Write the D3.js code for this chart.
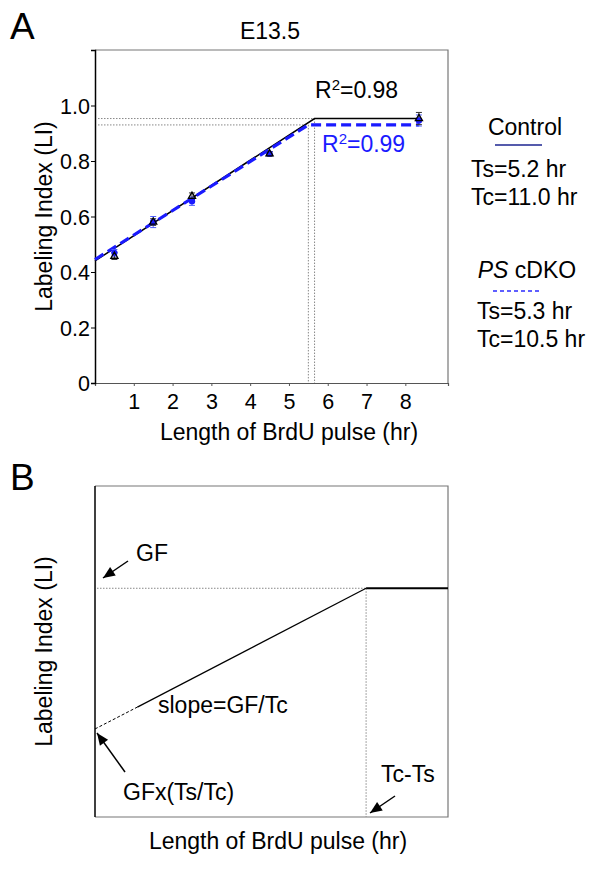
<!DOCTYPE html>
<html><head><meta charset="utf-8">
<script src="https://cdn.jsdelivr.net/npm/d3@7"></script>
<style>
html,body{margin:0;padding:0;background:#fff;}
svg{display:block;font-family:"Liberation Sans",Arial,Helvetica,sans-serif;}
</style></head>
<body>
<script>
// ---------- Panel A data ----------
const pulseHours = [0.5, 1.5, 2.5, 4.5, 8.35];
const controlLI = [0.457, 0.58, 0.673, 0.826, 0.953];
const controlErr = [0.012, 0.012, 0.012, 0.008, 0.022];
const koLI = [0.469, 0.58, 0.655, 0.826, 0.946];
const koErr = [0.012, 0.02, 0.015, 0.008, 0.02];
const controlFitX = [0, 5.66, 8.35];
const controlFitY = [0.44, 0.953, 0.953];
const koFitX = [0, 5.5, 8.35];
const koFitY = [0.445, 0.93, 0.93];
const xTicksA = [1, 2, 3, 4, 5, 6, 7, 8];
const yTicksA = [0, 0.2, 0.4, 0.6, 0.8, 1.0];
const yTickLabelsA = ["0", "0.2", "0.4", "0.6", "0.8", "1.0"];
const legendLabels = ["Control", "cDKO"];
const legendTs = ["Ts=5.2 hr", "Ts=5.3 hr"];
const legendTc = ["Tc=11.0 hr", "Tc=10.5 hr"];
const r2Labels = ["0.98", "0.99"];

// ---------- Panel B schematic ----------
const schemX = [0, 0.12, 0.768, 1];
const schemY = [0.266, 0.332, 0.691, 0.691];
const gfLevel = 0.691;
const breakX = 0.768;

const W = 600, H = 894;
const svg = d3.select("body").append("svg").attr("width", W).attr("height", H);
const FS = 23;
const TFS = 21.5;

// ===== Panel A =====
const xA = d3.scaleLinear().domain([0, 9.1]).range([95, 448]);
const yA = d3.scaleLinear().domain([0, 1.2]).range([383, 50]);

svg.append("text").attr("x", 10).attr("y", 39).attr("font-size", 37).text("A");
svg.append("text").attr("x", 270).attr("y", 39).attr("text-anchor", "middle").attr("font-size", FS).text("E13.5");

// frame top/right
svg.append("path").attr("d", `M${xA(0)},${yA(1.2)}H${xA(9.1)}V${yA(0)}`)
  .attr("fill", "none").attr("stroke", "#777").attr("stroke-width", 1.2);

// x axis
const gxA = svg.append("g").attr("transform", `translate(0,${yA(0)})`)
  .call(d3.axisBottom(xA).tickValues(xTicksA).tickSize(3).tickPadding(8).tickFormat(d3.format("d")));
gxA.select(".domain").attr("stroke", "#555").attr("stroke-width", 1.2);
gxA.selectAll(".tick line").attr("stroke", "#555");
gxA.selectAll("text").attr("font-size", TFS).attr("font-family", "Liberation Sans, Arial, sans-serif").attr("fill", "#000");

// y axis
const gyA = svg.append("g").attr("transform", `translate(${xA(0)},0)`)
  .call(d3.axisLeft(yA).tickValues(yTicksA).tickSize(4).tickPadding(1).tickFormat((d, i) => yTickLabelsA[i]));
gyA.select(".domain").attr("stroke", "#000").attr("stroke-width", 1.5);
gyA.selectAll("text").attr("font-size", TFS).attr("font-family", "Liberation Sans, Arial, sans-serif").attr("fill", "#000").attr("dy", "0.36em");

svg.append("text").attr("transform", `translate(52,${(yA(0) + yA(1.2)) / 2}) rotate(-90)`)
  .attr("text-anchor", "middle").attr("font-size", FS).text("Labeling Index (LI)");
svg.append("text").attr("x", 289).attr("y", 440).attr("text-anchor", "middle").attr("font-size", FS).text("Length of BrdU pulse (hr)");

// dotted reference lines
const dotted = (x1, y1, x2, y2, g) => g.append("line").attr("x1", x1).attr("y1", y1).attr("x2", x2).attr("y2", y2)
  .attr("stroke", "#888").attr("stroke-width", 1).attr("stroke-dasharray", "1.5,1.5");
dotted(xA(0) + 3, yA(controlFitY[1]), xA(controlFitX[1]), yA(controlFitY[1]), svg);
dotted(xA(0) + 3, yA(koFitY[1]), xA(koFitX[1]), yA(koFitY[1]), svg);
dotted(xA(controlFitX[1]), yA(controlFitY[1]), xA(controlFitX[1]), yA(0), svg);
dotted(xA(koFitX[1]), yA(koFitY[1]), xA(koFitX[1]), yA(0), svg);

const lineA = d3.line().x(d => xA(d[0])).y(d => yA(d[1]));
svg.append("path").attr("d", lineA(controlFitX.map((x, i) => [x, controlFitY[i]])))
  .attr("fill", "none").attr("stroke", "#000").attr("stroke-width", 1.5);
svg.append("path").attr("d", lineA(koFitX.map((x, i) => [x, koFitY[i]])))
  .attr("fill", "none").attr("stroke", "#1a1aff").attr("stroke-width", 3.2).attr("stroke-dasharray", "10,5");

// error bars
function errBars(vals, errs, color) {
  pulseHours.forEach((x, i) => {
    const cx = xA(x), t = yA(vals[i] + errs[i]), b = yA(vals[i] - errs[i]);
    svg.append("path").attr("d", `M${cx},${t}V${b}M${cx - 3},${t}H${cx + 3}M${cx - 3},${b}H${cx + 3}`)
      .attr("stroke", color).attr("stroke-width", 1).attr("fill", "none");
  });
}
errBars(koLI, koErr, "#5060ff");
errBars(controlLI, controlErr, "#333");
svg.selectAll(".ko").data(pulseHours).enter().append("circle")
  .attr("cx", d => xA(d)).attr("cy", (d, i) => yA(koLI[i])).attr("r", 3.2).attr("fill", "#1a1aff");
svg.selectAll(".ctl").data(pulseHours).enter().append("path")
  .attr("transform", (d, i) => `translate(${xA(d)},${yA(controlLI[i])})`)
  .attr("d", d3.symbol(d3.symbolTriangle, 22)).attr("fill", "none").attr("stroke", "#000").attr("stroke-width", 1.3);

// R2 labels
const r2a = svg.append("text").attr("x", 315).attr("y", 98).attr("font-size", FS).attr("fill", "#000");
r2a.append("tspan").text("R");
r2a.append("tspan").attr("font-size", 15).attr("dy", -8).text("2");
r2a.append("tspan").attr("dy", 8).text("=" + r2Labels[0]);
const r2b = svg.append("text").attr("x", 322).attr("y", 152).attr("font-size", FS).attr("fill", "#1a1aff");
r2b.append("tspan").text("R");
r2b.append("tspan").attr("font-size", 15).attr("dy", -8).text("2");
r2b.append("tspan").attr("dy", 8).text("=" + r2Labels[1]);

// legend
svg.append("text").attr("x", 525).attr("y", 135).attr("text-anchor", "middle").attr("font-size", FS).text(legendLabels[0]);
svg.append("line").attr("x1", 495).attr("x2", 542).attr("y1", 145).attr("y2", 145).attr("stroke", "#1c2590").attr("stroke-width", 1.5);
svg.append("text").attr("x", 471).attr("y", 177).attr("font-size", FS).text(legendTs[0]);
svg.append("text").attr("x", 471).attr("y", 205).attr("font-size", FS).text(legendTc[0]);
const lg2 = svg.append("text").attr("x", 527).attr("y", 278).attr("text-anchor", "middle").attr("font-size", FS);
lg2.append("tspan").attr("font-style", "italic").text("PS");
lg2.append("tspan").text(" " + legendLabels[1]);
svg.append("line").attr("x1", 493).attr("x2", 542).attr("y1", 291).attr("y2", 291).attr("stroke", "#2a2aff").attr("stroke-width", 1.5).attr("stroke-dasharray", "4,3");
svg.append("text").attr("x", 477).attr("y", 319).attr("font-size", FS).text(legendTs[1]);
svg.append("text").attr("x", 477).attr("y", 347).attr("font-size", FS).text(legendTc[1]);

// ===== Panel B =====
const xB = d3.scaleLinear().domain([0, 1]).range([95, 448]);
const yB = d3.scaleLinear().domain([0, 1]).range([817, 486]);

svg.append("text").attr("x", 10).attr("y", 490).attr("font-size", 37).text("B");
svg.append("path").attr("d", `M${xB(0)},${yB(1)}H${xB(1)}V${yB(0)}H${xB(0)}`)
  .attr("fill", "none").attr("stroke", "#777").attr("stroke-width", 1.2);
svg.append("line").attr("x1", xB(0)).attr("x2", xB(0)).attr("y1", yB(1)).attr("y2", yB(0)).attr("stroke", "#000").attr("stroke-width", 1.5);

svg.append("text").attr("transform", `translate(52,${(yB(0) + yB(1)) / 2}) rotate(-90)`)
  .attr("text-anchor", "middle").attr("font-size", FS).text("Labeling Index (LI)");
svg.append("text").attr("x", 278).attr("y", 849).attr("text-anchor", "middle").attr("font-size", FS).text("Length of BrdU pulse (hr)");

dotted(xB(0) + 2, yB(gfLevel), xB(breakX), yB(gfLevel), svg);
dotted(xB(breakX), yB(gfLevel), xB(breakX), yB(0), svg);

const lineB = d3.line().x(d => xB(d[0])).y(d => yB(d[1]));
const pts = schemX.map((x, i) => [x, schemY[i]]);
svg.append("path").attr("d", lineB(pts.slice(0, 2))).attr("fill", "none").attr("stroke", "#000").attr("stroke-width", 1).attr("stroke-dasharray", "3,2");
svg.append("path").attr("d", lineB(pts.slice(1, 3))).attr("fill", "none").attr("stroke", "#000").attr("stroke-width", 1.2);
svg.append("path").attr("d", lineB(pts.slice(2, 4))).attr("fill", "none").attr("stroke", "#000").attr("stroke-width", 2);

// arrows
function arrow(x1, y1, x2, y2) {
  svg.append("line").attr("x1", x1).attr("y1", y1).attr("x2", x2).attr("y2", y2).attr("stroke", "#000").attr("stroke-width", 1.5);
  const a = Math.atan2(y2 - y1, x2 - x1), L = 12, w = 5;
  const bx = x2 - L * Math.cos(a), by = y2 - L * Math.sin(a);
  const px = -Math.sin(a) * w, py = Math.cos(a) * w;
  svg.append("path").attr("d", `M${x2},${y2}L${bx + px},${by + py}L${bx - px},${by - py}Z`).attr("fill", "#000");
}
arrow(128, 561, 103, 578);
arrow(125, 772, 97, 733);
arrow(395, 796, 370, 813);

svg.append("text").attr("x", 136).attr("y", 561).attr("font-size", FS).text("GF");
svg.append("text").attr("x", 158).attr("y", 713).attr("font-size", FS).text("slope=GF/Tc");
svg.append("text").attr("x", 123).attr("y", 800).attr("font-size", FS).text("GFx(Ts/Tc)");
svg.append("text").attr("x", 381).attr("y", 782).attr("font-size", FS).text("Tc-Ts");
</script>
</body></html>
